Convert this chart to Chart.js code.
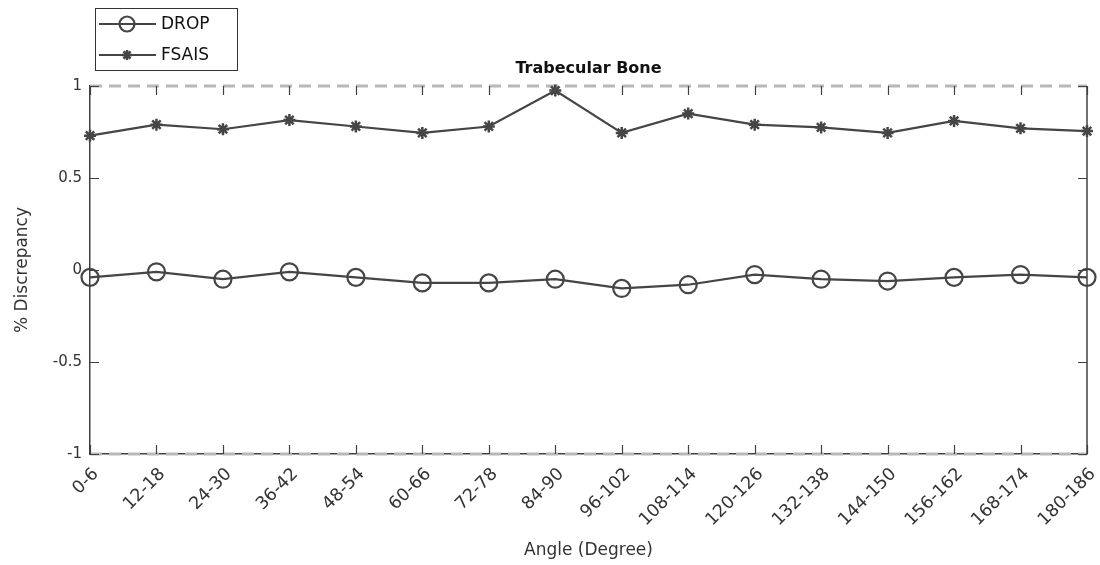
<!DOCTYPE html>
<html>
<head>
<meta charset="utf-8">
<script src="https://cdn.jsdelivr.net/npm/chart.js@4.4.1/dist/chart.umd.min.js"></script>
<style>
  html, body { margin: 0; padding: 0; background: #fff; }
  #wrap { width: 1100px; height: 565px; position: relative; }
</style>
</head>
<body>
<div id="wrap"><canvas id="chart" width="1100" height="565"></canvas></div>
<script>
// --- data ---
const angleLabels = ['0-6', '12-18', '24-30', '36-42', '48-54', '60-66', '72-78', '84-90',
    '96-102', '108-114', '120-126', '132-138', '144-150', '156-162', '168-174', '180-186'];
const dropValues = [-0.04, -0.01, -0.05, -0.01, -0.04, -0.07, -0.07, -0.05,
    -0.10, -0.08, -0.025, -0.05, -0.06, -0.04, -0.025, -0.04];
const fsaisValues = [0.73, 0.79, 0.765, 0.815, 0.78, 0.745, 0.78, 0.975,
    0.745, 0.85, 0.79, 0.775, 0.745, 0.81, 0.77, 0.755];
const yTicks = [-1, -0.5, 0, 0.5, 1];

const FONT = "'DejaVu Sans', sans-serif";
const INK = '#454545';
const AXIS = '#404040';

// axes frame, inward ticks, dashed limit lines, title and legend box
const matlabFrame = {
    id: 'matlabFrame',
    beforeDatasetsDraw(chart) {
        const { ctx, chartArea: a, scales } = chart;
        const y = scales.y, x = scales.x;
        ctx.save();
        // dashed lines at the y limits
        ctx.strokeStyle = '#b8b8b8';
        ctx.lineWidth = 3;
        ctx.setLineDash([12, 7]);
        [y.max, y.min].forEach(v => {
            const py = y.getPixelForValue(v);
            ctx.beginPath(); ctx.moveTo(a.left, py); ctx.lineTo(a.right, py); ctx.stroke();
        });
        ctx.setLineDash([]);
        // right border
        ctx.strokeStyle = AXIS;
        ctx.lineWidth = 1.5;
        ctx.beginPath(); ctx.moveTo(a.right, a.top); ctx.lineTo(a.right, a.bottom); ctx.stroke();
        // inward ticks
        ctx.lineWidth = 1.2;
        const tl = 9;
        y.ticks.forEach((t, i) => {
            const py = Math.round(y.getPixelForTick(i)) + 0.5;
            ctx.beginPath();
            ctx.moveTo(a.left, py); ctx.lineTo(a.left + tl, py);
            ctx.moveTo(a.right, py); ctx.lineTo(a.right - tl, py);
            ctx.stroke();
        });
        x.ticks.forEach((t, i) => {
            const px = Math.round(x.getPixelForTick(i)) + 0.5;
            ctx.beginPath();
            ctx.moveTo(px, a.bottom); ctx.lineTo(px, a.bottom - tl);
            ctx.moveTo(px, a.top); ctx.lineTo(px, a.top + tl);
            ctx.stroke();
        });
        ctx.restore();
    },
    afterDraw(chart) {
        const { ctx, chartArea: a } = chart;
        ctx.save();
        // title
        ctx.fillStyle = '#111';
        ctx.font = 'bold 16px ' + FONT;
        ctx.textAlign = 'center';
        ctx.textBaseline = 'alphabetic';
        ctx.fillText('Trabecular Bone', (a.left + a.right) / 2, 73);
        // legend box
        const bx = 95.5, by = 8.5, bw = 142, bh = 62;
        ctx.fillStyle = '#fff';
        ctx.fillRect(bx, by, bw, bh);
        ctx.strokeStyle = '#333';
        ctx.lineWidth = 1;
        ctx.strokeRect(bx, by, bw, bh);
        chart.data.datasets.forEach((ds, i) => {
            const ly = 24 + i * 31;
            ctx.strokeStyle = ds.borderColor;
            ctx.lineWidth = 2;
            ctx.beginPath(); ctx.moveTo(99, ly); ctx.lineTo(156, ly); ctx.stroke();
            ctx.strokeStyle = ds.pointBorderColor;
            ctx.fillStyle = ds.pointBackgroundColor;
            ctx.lineWidth = ds.pointBorderWidth;
            Chart.helpers.drawPoint(ctx, {
                pointStyle: ds.pointStyle, radius: ds.pointRadius - 1, rotation: 0,
                borderWidth: ds.pointBorderWidth
            }, 127, ly);
            ctx.fillStyle = '#111';
            ctx.font = '17px ' + FONT;
            ctx.textAlign = 'left';
            ctx.textBaseline = 'middle';
            ctx.fillText(ds.label, 161, ly + 1);
        });
        ctx.restore();
    }
};

new Chart(document.getElementById('chart'), {
    type: 'line',
    data: {
        labels: angleLabels,
        datasets: [{
            label: 'DROP',
            data: dropValues,
            borderColor: INK,
            borderWidth: 2.2,
            pointStyle: 'circle',
            pointRadius: 8.5,
            pointBorderWidth: 2.2,
            pointBorderColor: INK,
            pointBackgroundColor: 'rgba(0,0,0,0)',
            tension: 0,
            clip: false
        }, {
            label: 'FSAIS',
            data: fsaisValues,
            borderColor: INK,
            borderWidth: 2.2,
            pointStyle: 'star',
            pointRadius: 6,
            pointBorderWidth: 2.5,
            pointBorderColor: INK,
            pointBackgroundColor: INK,
            tension: 0,
            clip: false
        }]
    },
    options: {
        responsive: false,
        animation: false,
        devicePixelRatio: 1,
        layout: { padding: { left: 0, right: 13, top: 86, bottom: 0 } },
        plugins: { legend: { display: false }, tooltip: { enabled: false } },
        scales: {
            x: {
                type: 'category',
                offset: false,
                grid: { display: false, drawTicks: false },
                border: { display: true, color: AXIS, width: 1.5 },
                ticks: {
                    color: '#333', font: { family: FONT, size: 17.5 },
                    minRotation: 45, maxRotation: 45, padding: 10, labelOffset: 6,
                    autoSkip: false
                },
                title: {
                    display: true, text: 'Angle (Degree)', color: '#333',
                    font: { family: FONT, size: 17 }, padding: { top: 4, bottom: 4 }
                },
                afterFit: s => { s.height = 111; s.paddingRight = 0; s.paddingLeft = 0; }
            },
            y: {
                min: -1, max: 1,
                afterBuildTicks: s => { s.ticks = yTicks.map(v => ({ value: v })); },
                grid: { display: false, drawTicks: false },
                border: { display: true, color: AXIS, width: 1.5 },
                ticks: {
                    color: '#333', font: { family: FONT, size: 15 }, padding: 8,
                    callback: v => String(v)
                },
                title: {
                    display: true, text: '% Discrepancy', color: '#333',
                    font: { family: FONT, size: 17 }, padding: { top: 12, bottom: 4 }
                },
                afterFit: s => { s.width = 90; }
            }
        }
    },
    plugins: [matlabFrame]
});
</script>
</body>
</html>
